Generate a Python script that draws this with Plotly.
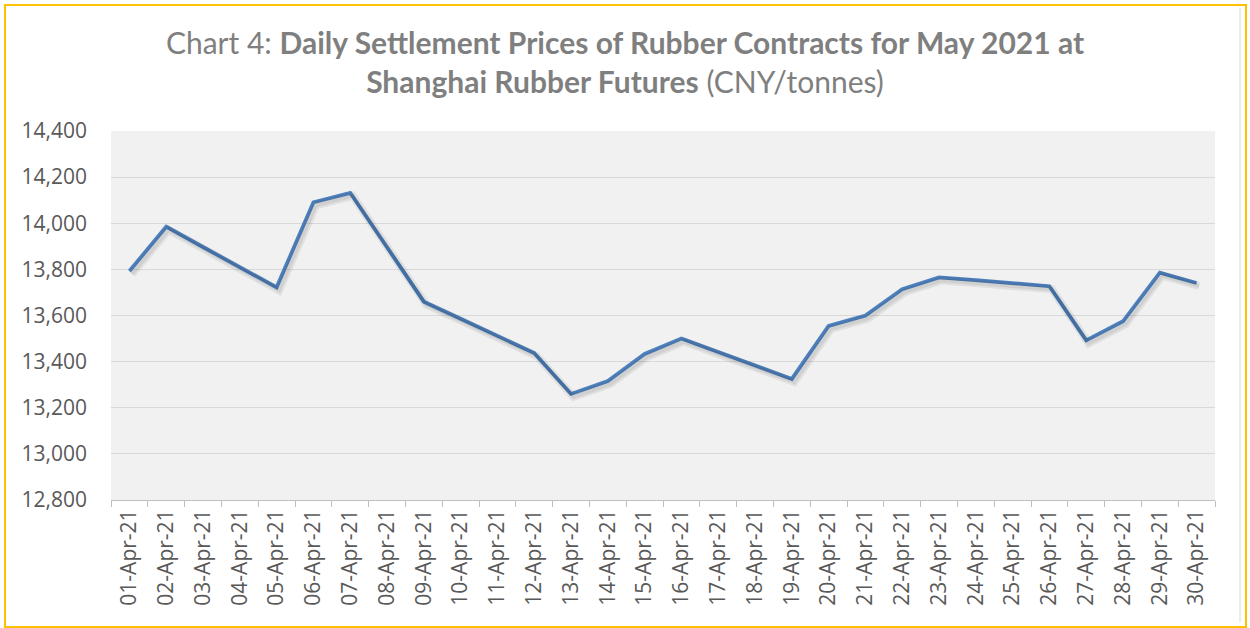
import plotly.graph_objects as go

dates = [f"{d:02d}-Apr-21" for d in range(1, 31)]
prices = [13793, 13985, 13897, 13810, 13722, 14091, 14132, 13896, 13660, 13586,
          13512, 13437, 13260, 13316, 13433, 13500, 13442, 13383, 13325, 13555,
          13600, 13714, 13765, 13753, 13741, 13727, 13492, 13575, 13786, 13741]
y_ticks = [12800, 13000, 13200, 13400, 13600, 13800, 14000, 14200, 14400]

W, H = 1250, 628
L, R, T, B = 111, 35, 131, 128
pw, ph = W - L - R, H - T - B

TITLE_FONT = "Lato"
TICK_FONT = "Open Sans"
TICK_COLOR = "#595959"

X_RANGE = [-0.5, 29.5]
Y_RANGE = [12800, 14400]
# shadow offset (pixels) converted to axis units
SH_DX = 2.5 * (X_RANGE[1] - X_RANGE[0]) / pw
SH_DY = 3 * (Y_RANGE[1] - Y_RANGE[0]) / ph

fig = go.Figure()
# soft drop shadow drawn on offset overlay axes
fig.add_trace(go.Scatter(
    x=dates, y=prices, mode="lines", xaxis="x2", yaxis="y2",
    line=dict(color="rgba(0,0,0,0.07)", width=8),
    hoverinfo="skip", showlegend=False,
))
fig.add_trace(go.Scatter(
    x=dates, y=prices, mode="lines", xaxis="x2", yaxis="y2",
    line=dict(color="rgba(0,0,0,0.07)", width=4),
    hoverinfo="skip", showlegend=False,
))
fig.add_trace(go.Scatter(
    x=dates, y=prices, mode="lines",
    line=dict(color="#4F81BD", width=3.75),
    hoverinfo="x+y", showlegend=False,
))

def px_x(p):
    return (p - L) / pw

def px_y(p):
    return (H - B - p) / ph

fig.update_layout(
    width=W, height=H,
    margin=dict(l=L, r=R, t=T, b=B),
    paper_bgcolor="white",
    plot_bgcolor="#F1F1F1",
    title=dict(
        text="Chart 4: <b>Daily Settlement Prices of Rubber Contracts for May 2021 at</b><br>"
             "<b>Shanghai Rubber Futures</b> (CNY/tonnes)",
        x=0.5, xanchor="center", xref="container",
        y=1 - 54 / H, yanchor="top", yref="container",
        font=dict(family=TITLE_FONT, size=30, color="#7F7F7F"),
    ),
    xaxis=dict(
        type="category", range=X_RANGE,
        tickson="boundaries", ticks="outside", ticklen=6, tickcolor="#BFBFBF",
        showline=True, linecolor="#BFBFBF", linewidth=1,
        showgrid=False, tickangle=-90,
        tickfont=dict(family=TICK_FONT, size=21, color=TICK_COLOR),
    ),
    xaxis2=dict(
        type="category", overlaying="x", visible=False,
        range=[X_RANGE[0] - SH_DX, X_RANGE[1] - SH_DX],
    ),
    yaxis=dict(
        range=Y_RANGE, tickvals=y_ticks, tickformat=",",
        showgrid=True, gridcolor="#D9D9D9", gridwidth=1,
        zeroline=False, showline=False, ticks="",
        ticklabelstandoff=23,
        tickfont=dict(family=TICK_FONT, size=21, color=TICK_COLOR),
    ),
    yaxis2=dict(
        overlaying="y", visible=False,
        range=[Y_RANGE[0] + SH_DY, Y_RANGE[1] + SH_DY],
    ),
    shapes=[
        dict(type="rect", xref="paper", yref="paper",
             x0=px_x(5), x1=px_x(1246), y0=px_y(627), y1=px_y(5),
             line=dict(color="#FFC000", width=2), fillcolor="rgba(0,0,0,0)", layer="below"),
        dict(type="line", xref="paper", yref="paper",
             x0=px_x(1240), x1=px_x(1240), y0=px_y(622), y1=px_y(8),
             line=dict(color="#D9D9D9", width=1), layer="below"),
    ],
)

fig.write_html(
    "out.html",
    config={"displayModeBar": False},
    post_script="document.body.style.margin='0';document.body.style.padding='0';",
)
